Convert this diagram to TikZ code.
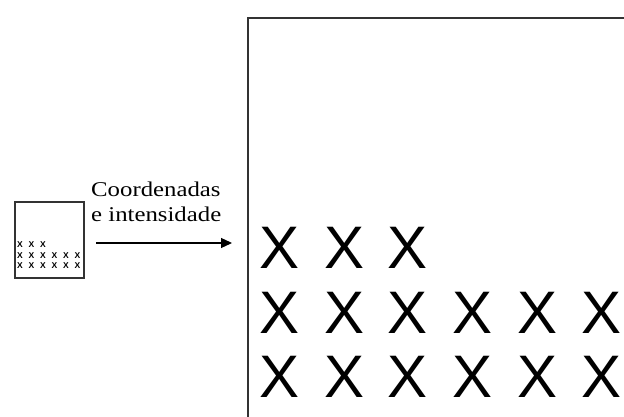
\documentclass[tikz,border=0pt]{standalone}
\usepackage{fontspec}
\setmainfont{Liberation Serif}
\newfontfamily\labfont[FakeStretch=1.18]{Liberation Serif}
\newfontfamily\xfont{Liberation Sans}
\usetikzlibrary{arrows.meta}
\tikzset{
  imgbox/.style={draw=black!80, fill=white, inner sep=0pt},
  bigx/.style={inner sep=0pt, font=\xfont\fontsize{60}{60}\selectfont},
  smallx/.style={inner sep=0pt, font=\xfont\bfseries\fontsize{8.5}{8.5}\selectfont},
  lab/.style={inner sep=0pt, align=left, font=\labfont\fontsize{21}{25}\selectfont},
  arr/.style={-{Triangle[length=11pt,width=10pt]}, line width=1.3pt}
}
\begin{document}
\begin{tikzpicture}[x=1pt, y=-1pt]
  \useasboundingbox (0,0) rectangle (624,417);
  \clip (0,0) rectangle (624,417);
  \fill[white] (0,0) rectangle (624,417);

  % thumbnail of the sampled image
  \node[imgbox, line width=1.5pt, minimum width=69pt, minimum height=76pt] (small) at (49.5,240) {};
  \foreach \c in {0,1,2}
    \node[smallx] (s1\c) at (20+11.5*\c,245) {X};
  \foreach \r/\y in {2/255.5,3/266}
    \foreach \c in {0,...,5}
      \node[smallx] (s\r\c) at (20+11.5*\c,\y) {X};

  % enlarged image
  \node[imgbox, line width=2pt, minimum width=420pt, minimum height=440pt, anchor=north west] (big) at (247,17) {};
  \foreach \c/\x in {0/280,1/345,2/408}
    \node[bigx] (b1\c) at (\x,248) {X};
  \foreach \r/\y in {2/313,3/377}
    \foreach \c/\x in {0/280,1/345,2/408,3/473,4/538,5/602}
      \node[bigx] (b\r\c) at (\x,\y) {X};

  % mapping arrow and its label
  \coordinate (from) at (96,243);
  \coordinate (to) at (232,243);
  \draw[arr] (from) -- (to);
  \node[lab, anchor=base west] (lbl) at (91,222) {Coordenadas\\e intensidade};
\end{tikzpicture}
\end{document}
